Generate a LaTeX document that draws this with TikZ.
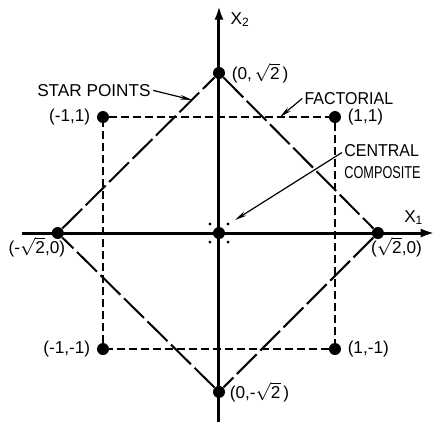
\documentclass[tikz,border=0pt]{standalone}
\usepackage{fontspec}
\setmainfont{Liberation Sans}
\newfontfamily\semifont[FakeStretch=0.93]{Liberation Sans}
\newfontfamily\narrowfont[FakeStretch=0.74]{Liberation Sans}
\usepackage{amsmath}
\usetikzlibrary{arrows.meta,positioning}

\tikzset{
  dotpt/.style={circle, fill=black, inner sep=0pt, minimum size=6pt},
  lbl/.style={inner sep=1pt, font=\fontsize{8.6}{10.8}\selectfont},
  axisline/.style={line width=1.5pt, -{Latex[length=7pt,width=4.5pt]}},
  starline/.style={line width=1pt, dash pattern=on 14pt off 2.5pt},
  factline/.style={line width=0.9pt, dash pattern=on 4pt off 2pt},
  pointer/.style={line width=0.6pt, -{Stealth[length=6pt,width=2.4pt]}}
}

\begin{document}
\begin{tikzpicture}[x=58pt, y=58pt]
    \useasboundingbox (-1.888,-1.664) rectangle (1.871,2.009);

    % Axes
    \coordinate (xlo) at (-1.70,0);
    \coordinate (xhi) at (1.86,0);
    \coordinate (ylo) at (0,-1.63);
    \coordinate (yhi) at (0,1.96);
    \draw[axisline] (xlo) -- (xhi);
    \draw[axisline] (ylo) -- (yhi);
    \node[lbl, anchor=west] (xtwo) at (0.08,1.84) {X\textsubscript{2}};
    \node[lbl] (xone) at (1.68,0.13) {X\textsubscript{1}};

    % Design points
    \node[dotpt] (ctr) at (0,0) {};
    \node[dotpt] (top) at (0,1.38) {};
    \node[dotpt] (bot) at (0,-1.37) {};
    \node[dotpt] (lft) at (-1.39,0) {};
    \node[dotpt] (rgt) at (1.37,0) {};
    \node[dotpt] (ul) at (-1,1) {};
    \node[dotpt] (ur) at (1,1) {};
    \node[dotpt] (ll) at (-1,-1) {};
    \node[dotpt] (lr) at (1,-1) {};
    \foreach \sx/\sy in {-1/-1, -1/1, 1/-1, 1/1}
        \fill (0.078*\sx,0.078*\sy) circle (0.8pt);

    % Star points (diamond)
    \draw[starline] (top) -- (rgt) -- (bot) -- (lft) -- (top);
    % Factorial (square)
    \draw[factline] (ul) -- (ur) -- (lr) -- (ll) -- (ul);

    % Point labels
    \node[lbl, right=2pt of top] (ltop) {(0,\,$\sqrt{\text{2}}$\,)};
    \node[lbl, right=1pt of bot] (lbot) {(0,-$\sqrt{\text{2}}$\,)};
    \node[lbl] (llft) at (-1.57,-0.12) {(-$\sqrt{\text{2}}$,0)};
    \node[lbl] (lrgt) at (1.53,-0.12) {($\sqrt{\text{2}}$,0)};
    \node[lbl, left=2pt of ul] (lul) {(-1,1)};
    \node[lbl, right=2pt of ur] (lur) {(1,1)};
    \node[lbl, left=2pt of ll] (lll) {(-1,-1)};
    \node[lbl, right=2pt of lr] (llr) {(1,-1)};

    % Callouts
    \node[lbl] (starlbl) at (-1.078,1.23) {STAR POINTS};
    \coordinate (starhit) at (-0.233,1.147);
    \draw[pointer] (starlbl.east) -- (starhit);
    \node[lbl] (faclbl) at (1.12,1.16) {\semifont FACTORIAL};
    \coordinate (fachit) at (0.526,1.0);
    \draw[pointer] (faclbl.west) -- (fachit);
    \node[lbl, anchor=north west, align=left] (cclbl) at (1.06,0.78)
        {{\semifont CENTRAL}\\{\narrowfont COMPOSITE}};
    \coordinate (cchit) at (0.138,0.112);
    \draw[pointer] ([yshift=-5pt]cclbl.north west) -- (cchit);
\end{tikzpicture}
\end{document}
